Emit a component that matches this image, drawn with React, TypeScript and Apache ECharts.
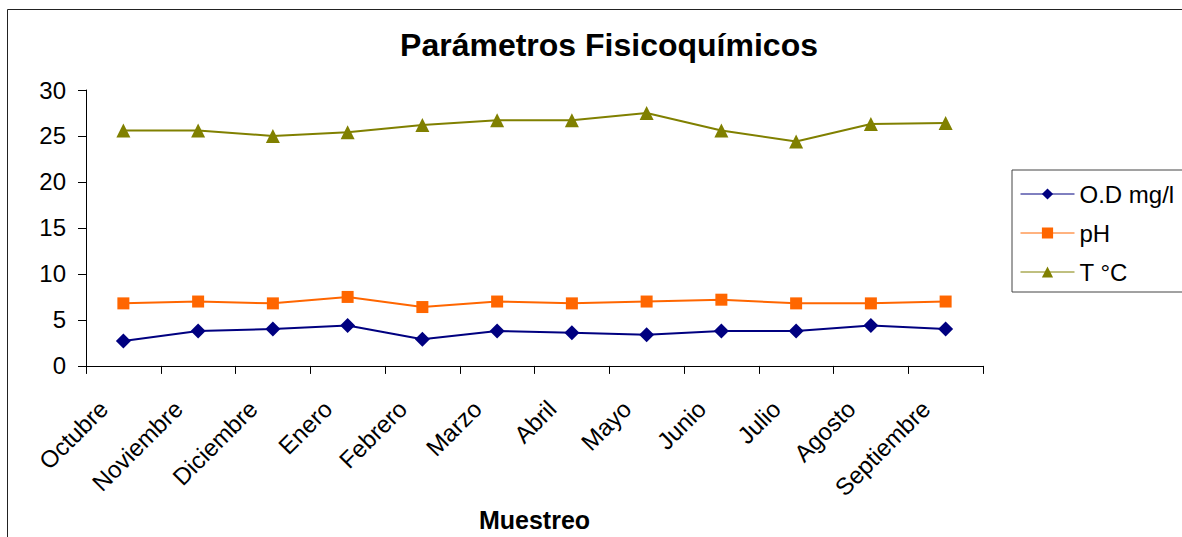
import React, { useEffect, useRef } from "react";
import * as echarts from "echarts";

const categories = ["Octubre", "Noviembre", "Diciembre", "Enero", "Febrero", "Marzo", "Abril", "Mayo", "Junio", "Julio", "Agosto", "Septiembre"];
const odValues = [2.7, 3.8, 4.0, 4.4, 2.9, 3.8, 3.6, 3.4, 3.8, 3.8, 4.4, 4.0];
const phValues = [6.8, 7.0, 6.8, 7.5, 6.4, 7.0, 6.8, 7.0, 7.2, 6.8, 6.8, 7.0];
const tempValues = [25.6, 25.6, 25.0, 25.4, 26.2, 26.7, 26.7, 27.5, 25.6, 24.4, 26.3, 26.4];
const seriesNames = ["O.D mg/l", "pH", "T °C"];

const FONT = "Liberation Sans, Arial, sans-serif";

export default function App() {
  const ref = useRef<HTMLDivElement>(null);
  useEffect(() => {
    if (!ref.current) return;
    const chart = echarts.init(ref.current, null, { renderer: "svg" });
    chart.setOption({
      animation: false,
      backgroundColor: "#fff",
      textStyle: { fontFamily: FONT, color: "#000" },
      title: {
        text: "Parámetros Fisicoquímicos",
        left: 604,
        textAlign: "center",
        top: 24,
        textStyle: { fontFamily: FONT, fontSize: 32, fontWeight: "bold", color: "#000" },
      },
      graphic: [
        {
          type: "line",
          shape: { x1: 7.5, y1: 9.5, x2: 1182, y2: 9.5 },
          style: { stroke: "#222", lineWidth: 1 },
          silent: true,
        },
        {
          type: "line",
          shape: { x1: 7.5, y1: 9.5, x2: 7.5, y2: 537 },
          style: { stroke: "#222", lineWidth: 1 },
          silent: true,
        },
      ],
      legend: {
        orient: "vertical",
        left: 1012,
        top: 170,
        itemWidth: 54,
        itemHeight: 14,
        itemGap: 15,
        padding: [12, 10, 8, 8],
        borderColor: "#444",
        borderWidth: 1,
        lineStyle: { width: 1 },
        textStyle: { fontFamily: FONT, fontSize: 24, color: "#000" },
        data: seriesNames,
      },
      grid: { left: 86, right: 199, top: 90, bottom: 170, containLabel: false },
      xAxis: {
        type: "category",
        data: categories,
        boundaryGap: true,
        name: "Muestreo",
        nameLocation: "middle",
        nameGap: 139,
        nameTextStyle: { fontFamily: FONT, fontSize: 25, fontWeight: "bold", color: "#000" },
        axisLine: { lineStyle: { color: "#000", width: 1 } },
        axisTick: { show: true, length: 8, alignWithLabel: false, lineStyle: { color: "#000" } },
        axisLabel: {
          rotate: 45,
          fontFamily: FONT,
          fontSize: 24,
          color: "#000",
          margin: 19,
          padding: [0, 28, 0, 0],
          interval: 0,
        },
        splitLine: { show: false },
      },
      yAxis: {
        type: "value",
        min: 0,
        max: 30,
        interval: 5,
        axisLine: { show: true, lineStyle: { color: "#000", width: 1 } },
        axisTick: { show: true, length: 8, lineStyle: { color: "#000" } },
        axisLabel: { fontFamily: FONT, fontSize: 24, color: "#000", margin: 20 },
        splitLine: { show: false },
      },
      series: [
        {
          name: seriesNames[0],
          type: "line",
          data: odValues,
          symbol: "diamond",
          symbolSize: 15,
          lineStyle: { color: "#000080", width: 2 },
          itemStyle: { color: "#000080" },
        },
        {
          name: seriesNames[1],
          type: "line",
          data: phValues,
          symbol: "rect",
          symbolSize: 12,
          lineStyle: { color: "#FF6600", width: 2 },
          itemStyle: { color: "#FF6600" },
        },
        {
          name: seriesNames[2],
          type: "line",
          data: tempValues,
          symbol: "triangle",
          symbolSize: 14,
          lineStyle: { color: "#808000", width: 2 },
          itemStyle: { color: "#808000" },
        },
      ],
    });
    return () => chart.dispose();
  }, []);
  return <div ref={ref} style={{ position: "absolute", left: 0, top: 0, width: 1182, height: 537 }} />;
}
